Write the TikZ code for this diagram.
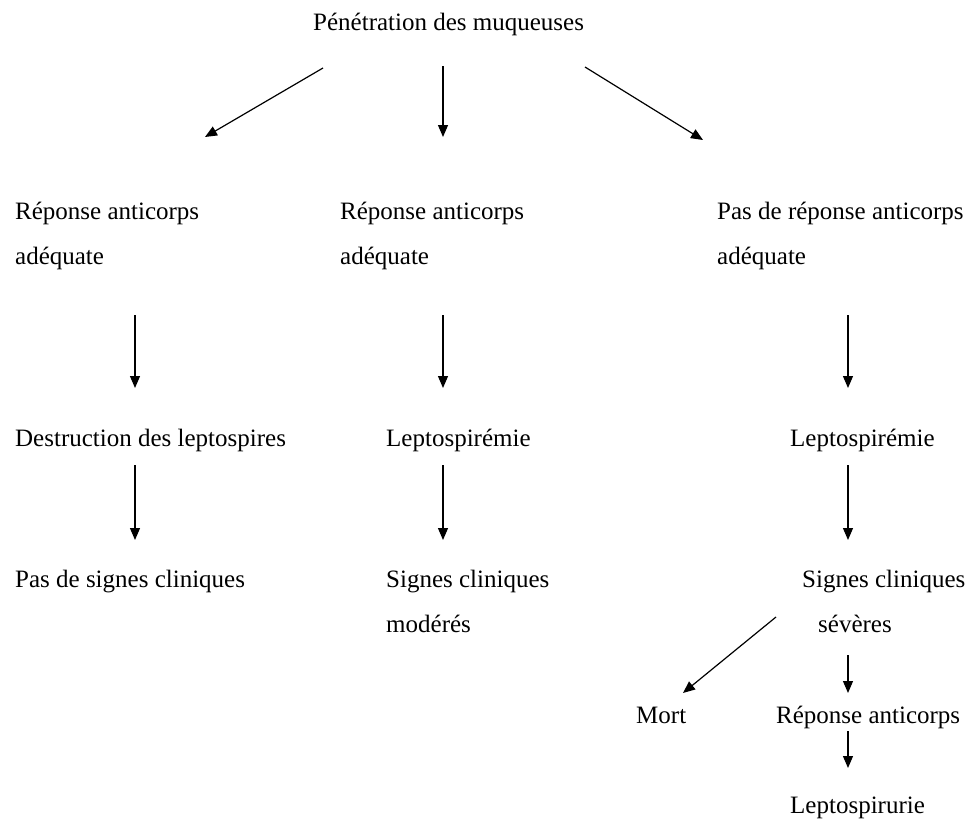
\documentclass[tikz,border=0pt]{standalone}
\usepackage{fontspec}
\setmainfont{Liberation Serif}
\usetikzlibrary{arrows.meta}
\begin{document}
\begin{tikzpicture}[x=1pt,y=-1pt,
  lbl/.style={anchor=base west,inner sep=0pt,font=\fontsize{25}{30}\selectfont},
  flow/.style={line width=1.2pt,-{Triangle[length=12pt,width=10pt]}}]
\useasboundingbox (0,0) rectangle (970,822);

% text of the tree
\node[lbl] (top) at (313,30) {Pénétration des muqueuses};

\node[lbl] (l2a) at (15,219) {Réponse anticorps};
\node[lbl] (l2b) at (15,264) {adéquate};
\node[lbl] (m2a) at (340,219) {Réponse anticorps};
\node[lbl] (m2b) at (340,264) {adéquate};
\node[lbl] (r2a) at (717,219) {Pas de réponse anticorps};
\node[lbl] (r2b) at (717,264) {adéquate};

\node[lbl] (l3) at (15,446) {Destruction des leptospires};
\node[lbl] (m3) at (386,446) {Leptospirémie};
\node[lbl] (r3) at (790,446) {Leptospirémie};

\node[lbl] (l4) at (15,587) {Pas de signes cliniques};
\node[lbl] (m4a) at (386,587) {Signes cliniques};
\node[lbl] (m4b) at (386,632) {modérés};
\node[lbl] (r4a) at (802,587) {Signes cliniques};
\node[lbl] (r4b) at (818,632) {sévères};

\node[lbl] (mort) at (636,723) {Mort};
\node[lbl] (r5) at (776,723) {Réponse anticorps};
\node[lbl] (r6) at (790,813) {Leptospirurie};

% arrow end points
\coordinate (t1s) at (323,68);  \coordinate (t1e) at (205,137);
\coordinate (t2s) at (443,66);  \coordinate (t2e) at (443,137);
\coordinate (t3s) at (585,67);  \coordinate (t3e) at (703,140);

\coordinate (a1s) at (135,315); \coordinate (a1e) at (135,388);
\coordinate (a2s) at (443,315); \coordinate (a2e) at (443,388);
\coordinate (a3s) at (848,315); \coordinate (a3e) at (848,388);

\coordinate (b1s) at (135,465); \coordinate (b1e) at (135,540);
\coordinate (b2s) at (443,465); \coordinate (b2e) at (443,540);
\coordinate (b3s) at (848,465); \coordinate (b3e) at (848,540);

\coordinate (c1s) at (776,617); \coordinate (c1e) at (683,693);
\coordinate (c2s) at (848,655); \coordinate (c2e) at (848,693);
\coordinate (d1s) at (848,731); \coordinate (d1e) at (848,768);

% arrows
\foreach \p in {t1,t2,t3,a1,a2,a3,b1,b2,b3,c1,c2,d1}
  \draw[flow] (\p s) -- (\p e);
\end{tikzpicture}
\end{document}
